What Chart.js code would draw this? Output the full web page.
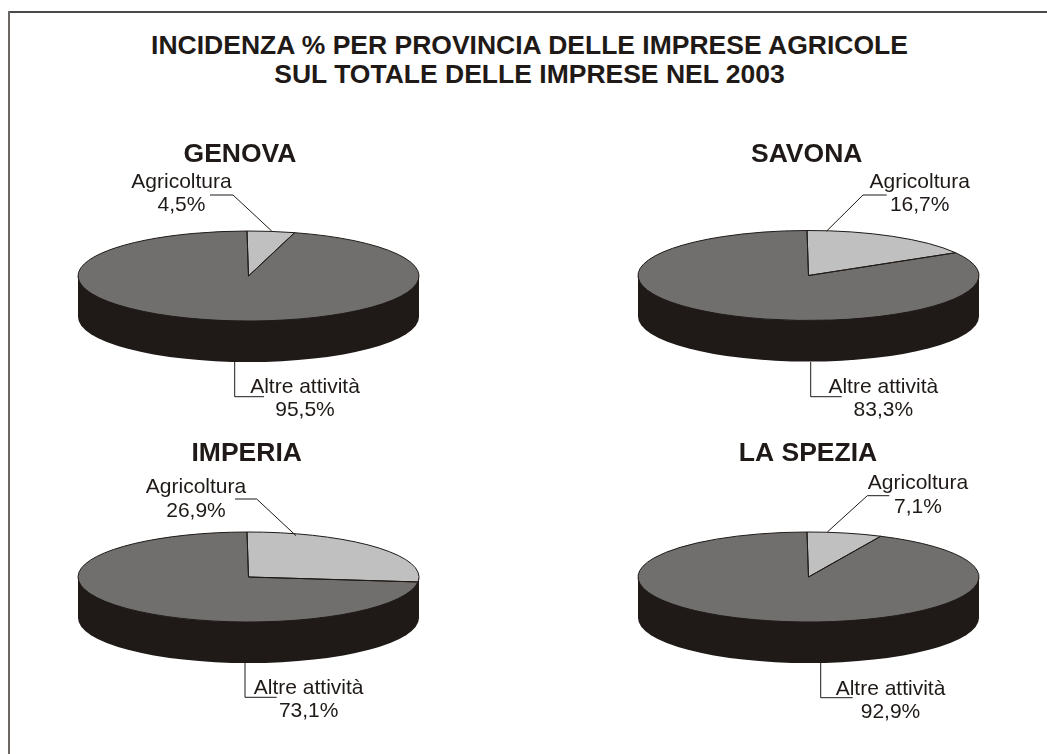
<!DOCTYPE html>
<html>
<head>
<meta charset="utf-8">
<title>Incidenza % imprese agricole</title>
<script src="https://cdn.jsdelivr.net/npm/chart.js@4/dist/chart.umd.min.js"></script>
<style>
html, body { margin: 0; padding: 0; background: #fff; overflow: hidden; }
#page { position: relative; width: 1047px; height: 754px; }
#page canvas { position: absolute; left: 0; top: 0; }
#lineTop { position: absolute; left: 8px; top: 11px; right: 0; height: 1.5px; background: #4a4a4a; }
#lineLeft { position: absolute; left: 8px; top: 11px; bottom: 0; width: 2px; background: #6b6764; }
h1 { position: absolute; left: 0; width: 1059px; margin: 0; text-align: center; white-space: nowrap;
     font: bold 26.5px/30px "Liberation Sans", Arial, sans-serif; color: #1f1a17; }
</style>
</head>
<body>
<div id="page">
  <div id="lineTop"></div>
  <div id="lineLeft"></div>
  <h1 style="top:30px">INCIDENZA % PER PROVINCIA DELLE IMPRESE AGRICOLE</h1>
  <h1 style="top:59px">SUL TOTALE DELLE IMPRESE NEL 2003</h1>
  <canvas id="pie0" width="1047" height="754"></canvas>
  <canvas id="pie1" width="1047" height="754"></canvas>
  <canvas id="pie2" width="1047" height="754"></canvas>
  <canvas id="pie3" width="1047" height="754"></canvas>
</div>
<script>
// data
var categories = ['Agricoltura', 'Altre attività'];
var provinces = ['GENOVA', 'SAVONA', 'IMPERIA', 'LA SPEZIA'];
var agricoltura = [4.5, 16.7, 26.9, 7.1];
var altreAttivita = [95.5, 83.3, 73.1, 92.9];

// page layout of each pie, same order as provinces
var layouts = [
    { cx: 248.5, cy: 276, titleX: 240, titleY: 162,
      agriX: 181.5, agriY: 188, agriY2: 211, agriLine: [[271.7, 231], [233, 195], [210, 195]],
      altreX: 305, altreY: 393, altreY2: 416, altreLine: [[234.7, 362], [234.7, 396.7], [264, 396.7]] },
    { cx: 808.5, cy: 275.5, titleX: 806.7, titleY: 162,
      agriX: 919.7, agriY: 188, agriY2: 211, agriLine: [[826.7, 231], [863, 195], [886.7, 195]],
      altreX: 883.3, altreY: 393, altreY2: 416, altreLine: [[810.7, 362], [810.7, 396.7], [841.7, 396.7]] },
    { cx: 248.5, cy: 577, titleX: 246.7, titleY: 461,
      agriX: 196, agriY: 493, agriY2: 517, agriLine: [[296, 535.7], [256.7, 499], [235, 499]],
      altreX: 308.7, altreY: 694, altreY2: 717, altreLine: [[245, 663], [245, 697.3], [276.7, 697.3]] },
    { cx: 808.5, cy: 577, titleX: 808, titleY: 461,
      agriX: 918, agriY: 489, agriY2: 513, agriLine: [[827.3, 532], [867.3, 495.7], [889.3, 495.7]],
      altreX: 890.5, altreY: 695, altreY2: 718, altreLine: [[820.7, 663], [820.7, 697.7], [852.7, 697.7]] }
];

var radiusX = 170.5;
var radiusY = 45;
var depth = 41;
var ink = '#1f1a17';
var sliceColors = ['#c0c0c0', '#706f6d'];

function percent(v) {
    return v.toFixed(1).replace('.', ',') + '%';
}

function drawPolyline(ctx, pts) {
    ctx.beginPath();
    ctx.moveTo(pts[0][0], pts[0][1]);
    for (var i = 1; i < pts.length; i++) {
        ctx.lineTo(pts[i][0], pts[i][1]);
    }
    ctx.lineWidth = 1;
    ctx.strokeStyle = ink;
    ctx.stroke();
}

// squashes the round pie into an ellipse and adds the dark side and the labels
var flatPie = {
    id: 'flatPie',
    beforeDatasetsDraw: function (chart) {
        var ctx = chart.ctx;
        var arc = chart.getDatasetMeta(0).data[0];
        var rx = arc.outerRadius;

        ctx.beginPath();
        ctx.moveTo(arc.x - rx, arc.y);
        ctx.lineTo(arc.x - rx, arc.y + depth);
        ctx.ellipse(arc.x, arc.y + depth, rx, radiusY, 0, Math.PI, 0, true);
        ctx.lineTo(arc.x + rx, arc.y);
        ctx.closePath();
        ctx.fillStyle = ink;
        ctx.fill();

        ctx.save();
        ctx.translate(arc.x, arc.y);
        ctx.scale(1, radiusY / rx);
        ctx.translate(-arc.x, -arc.y);
    },
    afterDatasetsDraw: function (chart) {
        var ctx = chart.ctx;
        ctx.restore();

        // outlines are stroked outside the squash so they keep an even width
        chart.getDatasetMeta(0).data.forEach(function (arc) {
            ctx.beginPath();
            ctx.moveTo(arc.x, arc.y);
            ctx.ellipse(arc.x, arc.y, arc.outerRadius, radiusY, 0, arc.startAngle, arc.endAngle);
            ctx.closePath();
            ctx.lineWidth = 1;
            ctx.strokeStyle = ink;
            ctx.stroke();
        });

        var i = chart.options.plugins.flatPie.index;
        var p = layouts[i];
        var values = chart.data.datasets[0].data;

        drawPolyline(ctx, p.agriLine);
        drawPolyline(ctx, p.altreLine);

        ctx.fillStyle = ink;
        ctx.textAlign = 'center';
        ctx.textBaseline = 'alphabetic';
        ctx.font = 'bold 26.5px "Liberation Sans", Arial, sans-serif';
        ctx.fillText(provinces[i], p.titleX, p.titleY);
        ctx.font = '21px "Liberation Sans", Arial, sans-serif';
        ctx.fillText(chart.data.labels[0], p.agriX, p.agriY);
        ctx.fillText(percent(values[0]), p.agriX, p.agriY2);
        ctx.fillText(chart.data.labels[1], p.altreX, p.altreY);
        ctx.fillText(percent(values[1]), p.altreX, p.altreY2);
    }
};

provinces.forEach(function (name, i) {
    var p = layouts[i];
    var ctx = document.getElementById('pie' + i).getContext('2d');
    new Chart(ctx, {
        type: 'pie',
        plugins: [flatPie],
        data: {
            labels: categories,
            datasets: [{
                label: name,
                data: [agricoltura[i], altreAttivita[i]],
                backgroundColor: sliceColors,
                borderWidth: 0,
                clip: false
            }]
        },
        options: {
            responsive: false,
            animation: false,
            events: [],
            rotation: -0.5,
            radius: radiusX,
            // the small chart area sits exactly on the pie centre
            layout: { padding: { left: p.cx - 10, right: 1047 - p.cx - 10, top: p.cy - 10, bottom: 754 - p.cy - 10 } },
            plugins: {
                legend: { display: false },
                title: { display: false },
                tooltip: { enabled: false },
                flatPie: { index: i }
            }
        }
    });
});
</script>
</body>
</html>
